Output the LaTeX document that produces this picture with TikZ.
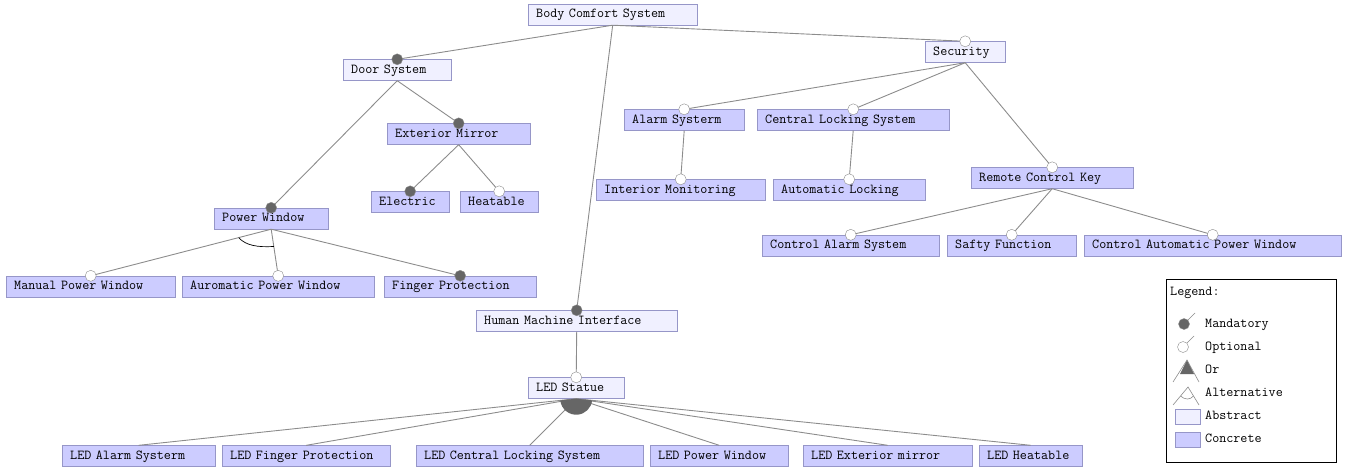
\documentclass[tikz,border=0pt]{standalone}
\usepackage{fontspec}
\usetikzlibrary{calc}

\definecolor{concretefill}{RGB}{204,204,255}
\definecolor{abstractfill}{RGB}{240,240,255}
\definecolor{boxline}{RGB}{150,150,200}
\definecolor{edgegray}{RGB}{140,140,140}
\definecolor{dotgray}{RGB}{102,102,102}

\begin{document}
\begin{tikzpicture}[
  x=1pt, y=-1pt,
  font=\fontsize{13.7}{16}\selectfont\ttfamily,
  feat/.style={draw=boxline,anchor=west,minimum height=21pt,inner xsep=8pt,inner ysep=0pt,
    text height=8.5pt,text depth=2.5pt,align=left},
  concrete/.style={feat,fill=concretefill},
  abstract/.style={feat,fill=abstractfill},
  edge/.style={draw=edgegray,line width=0.9pt},
  mand/.style={circle,fill=dotgray,draw=edgegray,inner sep=0pt,minimum size=11pt},
  opt/.style={circle,fill=white,draw=edgegray,inner sep=0pt,minimum size=11pt},
  legtext/.style={anchor=west,inner sep=0pt,text height=8.5pt,text depth=2.5pt}
]
\useasboundingbox (0,0) rectangle (1348,467);

% features, placed by their left edge
\node[abstract,text width=153pt] (bcs) at (528,14.5) {Body Comfort System};
\node[abstract,text width=92pt] (door) at (343,70) {Door System};
\node[abstract,text width=64pt] (sec) at (925,52) {Security};
\node[concrete,text width=127pt] (extmir) at (387,134) {Exterior Mirror};
\node[concrete,text width=62pt] (electric) at (371,202) {Electric};
\node[concrete,text width=62pt] (heat) at (460,202) {Heatable};
\node[concrete,text width=98pt] (pw) at (214,218.5) {Power Window};
\node[concrete,text width=153pt] (manual) at (6,286.5) {Manual Power Window};
\node[concrete,text width=176pt] (auro) at (182,286.5) {Auromatic Power Window};
\node[concrete,text width=136pt] (finger) at (384,286.5) {Finger Protection};
\node[abstract,text width=185pt] (hmi) at (476,321) {Human Machine Interface};
\node[abstract,text width=80pt] (ledst) at (528,388) {LED Statue};
\node[concrete,text width=137pt] (led1) at (62,456) {LED Alarm Systerm};
\node[concrete,text width=152pt] (led2) at (222,456) {LED Finger Protection};
\node[concrete,text width=211pt] (led3) at (416,456) {LED Central Locking System};
\node[concrete,text width=122pt] (led4) at (650,456) {LED Power Window};
\node[concrete,text width=153pt] (led5) at (803,456) {LED Exterior mirror};
\node[concrete,text width=87pt] (led6) at (979,456) {LED Heatable};
\node[concrete,text width=104pt] (alarm) at (624,120) {Alarm Systerm};
\node[concrete,text width=176pt] (central) at (757,120) {Central Locking System};
\node[concrete,text width=153pt] (interior) at (596,190) {Interior Monitoring};
\node[concrete,text width=136pt] (autolock) at (773,190) {Automatic Locking};
\node[concrete,text width=146pt] (remote) at (971,178) {Remote Control Key};
\node[concrete,text width=161pt] (ctrlalarm) at (762,245.5) {Control Alarm System};
\node[concrete,text width=113pt] (safty) at (947,245.5) {Safty Function};
\node[concrete,text width=241pt] (ctrlapw) at (1084,245.5) {Control Automatic Power Window};

% tree edges
\foreach \p/\c in {bcs/door,bcs/sec,bcs/hmi,door/extmir,door/pw,extmir/electric,extmir/heat,
  pw/manual,pw/auro,pw/finger,hmi/ledst,sec/alarm,sec/central,sec/remote,
  alarm/interior,central/autolock,remote/ctrlalarm,remote/safty,remote/ctrlapw}
  \draw[edge] (\p.south) -- (\c.north);
\foreach \c in {led1,led2,led3,led4,led5,led6}
  \draw[edge] (ledst.south) -- (\c.north);

% mandatory / optional markers
\foreach \c in {door,extmir,electric,pw,finger,hmi}
  \node[mand] (\c-dot) at (\c.north) {};
\foreach \c in {sec,heat,manual,auro,ledst,alarm,central,interior,autolock,remote,ctrlalarm,safty,ctrlapw}
  \node[opt] (\c-dot) at (\c.north) {};

% group arcs
\path (pw.south) -- (manual.north) coordinate[pos=0.18] (altA);
\path (pw.south) -- (auro.north) coordinate[pos=0.37] (altB);
\draw[line width=0.7pt] (altA) .. controls ($(altA)+(7,8)$) and ($(altB)+(-16,1)$) .. (altB);
\fill[dotgray] (ledst.south) -- ++(174:16) arc[start angle=174,end angle=6,radius=16] -- cycle;

% legend
\node[draw=black,fill=white,minimum width=170pt,minimum height=183pt,inner sep=0pt,anchor=north west] (legend) at (1166,279) {};
\node[legtext] (legtitle) at (1170,292) {Legend:};
\node[mand] (lgmand) at (1184,324) {};
\draw[edge,line width=0.6pt] (lgmand.45) -- ++(7,-7);
\node[opt] (lgopt) at (1183,347) {};
\draw[edge,line width=0.6pt] (lgopt.45) -- ++(7,-7);
\fill[dotgray] (1187,360) -- (1180,374) -- (1194,374) -- cycle;
\draw[edge,line width=0.6pt] (1173,382) -- (1187,360) -- (1199,382);
\draw[edge,line width=0.6pt] (1173,405) -- (1188,387) -- (1199,405);
\draw[edge,line width=0.6pt] (1180.5,396) .. controls (1185,400) and (1190,400) .. (1193.5,396);
\draw[draw=boxline,fill=abstractfill] (1175,409) rectangle (1200,424);
\draw[draw=boxline,fill=concretefill] (1175,432) rectangle (1200,447);
\node[legtext] (lgmandtxt) at (1205,324) {Mandatory};
\node[legtext] (lgopttxt) at (1205,347) {Optional};
\node[legtext] (lgortxt) at (1205,370) {Or};
\node[legtext] (lgalttxt) at (1205,393) {Alternative};
\node[legtext] (lgabstxt) at (1205,416) {Abstract};
\node[legtext] (lgcontxt) at (1205,439) {Concrete};
\end{tikzpicture}
\end{document}
